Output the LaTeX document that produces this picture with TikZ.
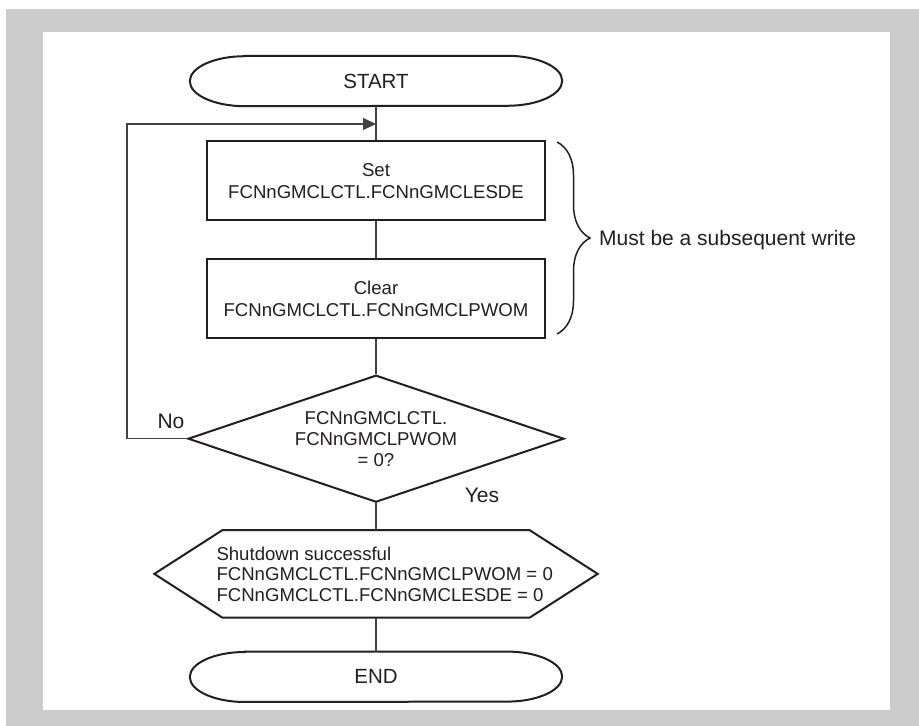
\documentclass[tikz,border=0pt]{standalone}
\usepackage{fontspec}
\setmainfont{Liberation Sans}
\usepackage{tikz}
\usetikzlibrary{positioning,shapes.geometric,arrows.meta,decorations.pathreplacing}
\definecolor{ink}{HTML}{231F20}
\definecolor{bandgray}{HTML}{CCCCCC}

\begin{document}
\begin{tikzpicture}[x=1pt,y=1pt,color=ink,
      outl/.style={draw=ink,line width=2pt},
      conn/.style={draw=ink!85,line width=1.1pt},
      term/.style={minimum width=372pt,minimum height=50pt,inner sep=0pt,font=\fontsize{20.5}{24}\selectfont},
      stepbox/.style={draw=ink,line width=2pt,minimum width=338pt,minimum height=79pt,inner sep=0pt,
        align=center,font=\fontsize{18.6}{22}\selectfont},
      dec/.style={diamond,draw=ink,line width=2pt,aspect=2.96,minimum width=376pt,minimum height=127pt,
        inner sep=0pt,align=center,font=\fontsize{18.6}{21}\selectfont},
      hexa/.style={minimum width=443pt,minimum height=87pt,inner sep=0pt},
      lbl/.style={inner sep=0pt,font=\fontsize{21}{24}\selectfont}]
    \useasboundingbox (0,0) rectangle (919,726);
    \fill[bandgray] (6,0) rectangle (919,717);
    \fill[white] (43,16) rectangle (890,694);

    \node[term] (start) at (376,645) {START};
    \node[stepbox,below=34pt of start] (setb) {Set\\FCNnGMCLCTL.FCNnGMCLESDE};
    \node[stepbox,below=37pt of setb] (clrb) {Clear\\FCNnGMCLCTL.FCNnGMCLPWOM};
    \node[dec,below=35pt of clrb] (dia) {FCNnGMCLCTL.\\FCNnGMCLPWOM\\= 0?};
    \node[hexa,below=27pt of dia] (hex) {};
    \node[anchor=west,inner sep=0pt,align=left,font=\fontsize{18.6}{20.5}\selectfont]
      (hextxt) at ([xshift=62pt]hex.west)
      {Shutdown successful\\FCNnGMCLCTL.FCNnGMCLPWOM = 0\\FCNnGMCLCTL.FCNnGMCLESDE = 0};
    \node[term,below=34pt of hex] (stop) {END};

    % terminals with elliptic ends
    \foreach \t in {start,stop} {
      \draw[outl] ([xshift=55pt]\t.north west) -- ([xshift=-55pt]\t.north east)
        arc[start angle=90,end angle=-90,x radius=55pt,y radius=25pt]
        -- ([xshift=55pt]\t.south west)
        arc[start angle=270,end angle=90,x radius=55pt,y radius=25pt] -- cycle;
    }
    \draw[outl] ([xshift=68pt]hex.north west) -- ([xshift=-68pt]hex.north east) -- (hex.east)
      -- ([xshift=-68pt]hex.south east) -- ([xshift=68pt]hex.south west) -- (hex.west) -- cycle;

    \foreach \a/\b in {start/setb,setb/clrb,clrb/dia,dia/hex,hex/stop}
      \draw[conn] (\a) -- (\b);

    % retry loop
    \coordinate (lp) at (127,602);
    \coordinate (jn) at (376,602);
    \draw[conn,-{Triangle[length=13pt,width=12pt]}] (dia.west) -| (lp) -- (jn);
    \node[lbl] (no) at (171,305) {No};
    \node[lbl] (yes) at (482,231) {Yes};

    % brace over the two writes
    \coordinate (bt) at (557,584);
    \coordinate (bb) at (557,392);
    \draw[draw=ink,line width=1.5pt,decorate,decoration={brace,amplitude=33pt}] (bt) -- (bb);
    \node[lbl,anchor=west] (note) at (599,486) {Must be a subsequent write};
  \end{tikzpicture}
\end{document}
